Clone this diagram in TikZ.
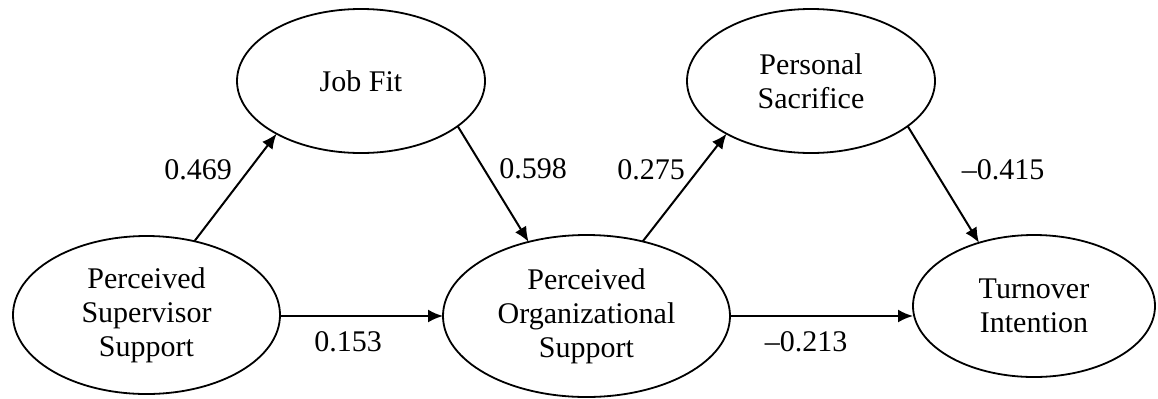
\documentclass[tikz,border=0pt]{standalone}
\usepackage{fontspec}
\setmainfont{Liberation Serif}
\usetikzlibrary{shapes.geometric,arrows.meta}

\begin{document}
\begin{tikzpicture}[x=0.5pt,y=-0.5pt,
  construct/.style={ellipse,draw,line width=0.9pt,inner sep=0pt,outer sep=0pt,
    align=center,font=\fontsize{15}{17}\selectfont},
  path/.style={line width=1pt,-{Latex[length=7.5pt,width=6.5pt]}},
  coef/.style={font=\fontsize{15}{17}\selectfont,inner sep=0pt}]
  \useasboundingbox (0,0) rectangle (1158,398);

  % latent constructs
  \node[construct,minimum width=133.5pt,minimum height=79pt] (pss) at (146.5,315)
    {Perceived\\Supervisor\\Support};
  \node[construct,minimum width=124pt,minimum height=72pt] (jf) at (361,81)
    {Job Fit};
  \node[construct,minimum width=143.5pt,minimum height=81pt] (pos) at (586.5,316)
    {Perceived\\Organizational\\Support};
  \node[construct,minimum width=124pt,minimum height=72pt] (ps) at (811,81)
    {Personal\\Sacrifice};
  \node[construct,minimum width=121pt,minimum height=71pt] (ti) at (1034,306)
    {Turnover\\Intention};

  % structural paths
  \draw[path] (pss.57.5) -- (jf.212);
  \draw[path] (jf.335.6) -- (pos.128);
  \draw[path] (pos.53.4) -- (ps.212.2);
  \draw[path] (ps.335.3) -- (ti.131.7);
  \draw[path] (pss.east |- pos.west) -- (pos.west);
  \draw[path] (pos.east) -- (pos.east -| ti.west);

  % path coefficients
  \node[coef] (c1) at (198,170) {0.469};
  \node[coef] (c2) at (533,169) {0.598};
  \node[coef] (c3) at (651,170) {0.275};
  \node[coef] (c4) at (1003,170) {\textendash0.415};
  \node[coef] (c5) at (348,342) {0.153};
  \node[coef] (c6) at (806,342) {\textendash0.213};
\end{tikzpicture}
\end{document}
